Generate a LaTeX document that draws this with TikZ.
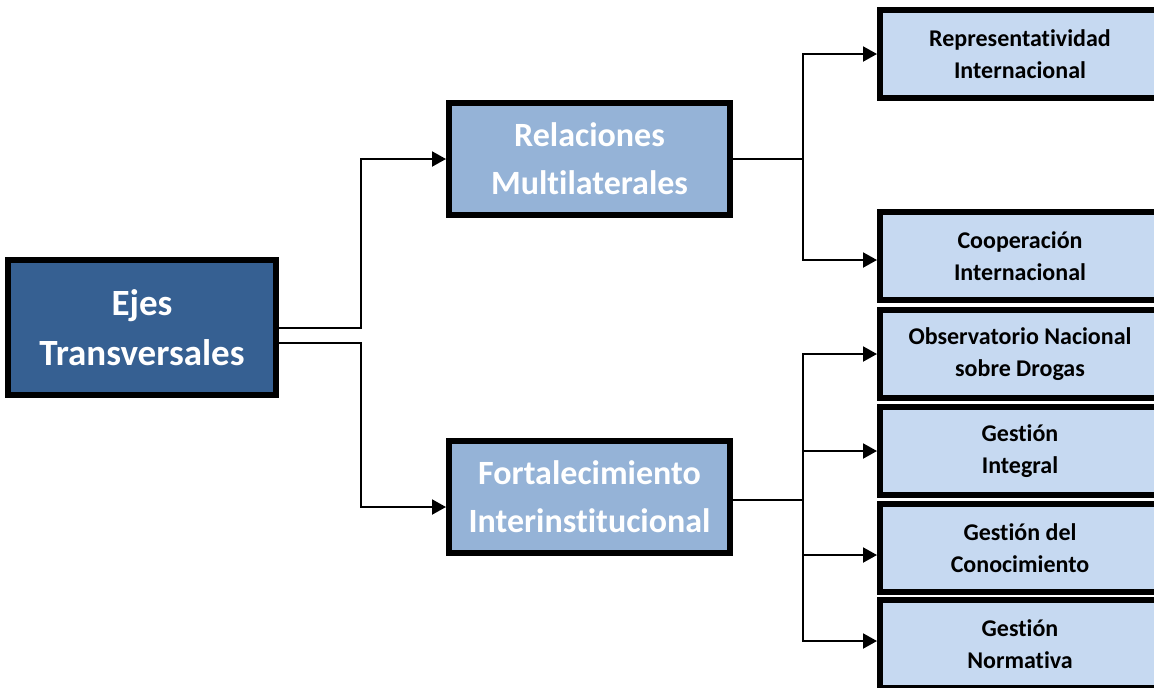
\documentclass[tikz,border=0pt]{standalone}
\usepackage{fontspec}
\setmainfont{Carlito}[Ligatures=NoCommon]
\usepackage{xcolor}
\usetikzlibrary{arrows.meta, positioning}

\definecolor{ejeblue}{HTML}{366092}
\definecolor{areablue}{HTML}{95B3D7}
\definecolor{leafblue}{HTML}{C6D9F1}

\begin{document}
\begin{tikzpicture}[
        x=0.5pt, y=-0.5pt,
        root/.style={rectangle, draw, line width=3pt, fill=ejeblue, text=white, font=\fontsize{18.5}{25}\selectfont\bfseries, align=center, minimum width=134pt, minimum height=67.5pt},
        area/.style={rectangle, draw, line width=3pt, fill=areablue, text=white, font=\fontsize{17}{24}\selectfont\bfseries, align=center, minimum width=140.5pt, minimum height=56pt},
        leaf/.style={rectangle, draw, line width=3pt, fill=leafblue, font=\fontsize{12}{16}\selectfont\bfseries, align=center, minimum width=140pt, minimum height=44pt},
        link/.style={line width=1pt, -{Triangle[length=7pt, width=7.5pt]}}
    ]
    \clip (0,0) rectangle (1154,687);

    % Root
    \node[root] (ejes) at (142,327.5) {Ejes\\Transversales};

    % Areas
    \node[area] (rel) at (589.5,159) {Relaciones\\Multilaterales};
    \node[area] (fort) at (589.5,497) {Fortalecimiento\\Interinstitucional};

    % Leaves
    \node[leaf] (rep) at (1020,54) {Representatividad\\Internacional};
    \node[leaf] (coop) at (1020,256) {Cooperación\\Internacional};
    \node[leaf, below=2pt of coop] (obs) {Observatorio Nacional\\sobre Drogas};
    \node[leaf, below=1.5pt of obs] (integral) {Gestión\\Integral};
    \node[leaf, below=1.5pt of integral] (conoc) {Gestión del\\Conocimiento};
    \node[leaf, below=1pt of conoc] (norm) {Gestión\\Normativa};

    % Connections
    \draw[link] (ejes.east) -- ++(82,0) |- (rel.west);
    \draw[link] ([yshift=-7.75pt]ejes.east) -- ++(82,0) |- ([yshift=-5pt]fort.west);

    \draw[link] (rel.east) -- ++(70,0) |- (rep.west);
    \draw[link] (rel.east) -- ++(70,0) |- ([yshift=-2pt]coop.west);

    \draw[link] ([yshift=-1.5pt]fort.east) -- ++(70,0) |- (obs.west);
    \draw[link] ([yshift=-1.5pt]fort.east) -- ++(70,0) |- (integral.west);
    \draw[link] ([yshift=-1.5pt]fort.east) -- ++(70,0) |- ([yshift=-3.5pt]conoc.west);
    \draw[link] ([yshift=-1.5pt]fort.east) -- ++(70,0) |- ([yshift=1.5pt]norm.west);

\end{tikzpicture}
\end{document}
